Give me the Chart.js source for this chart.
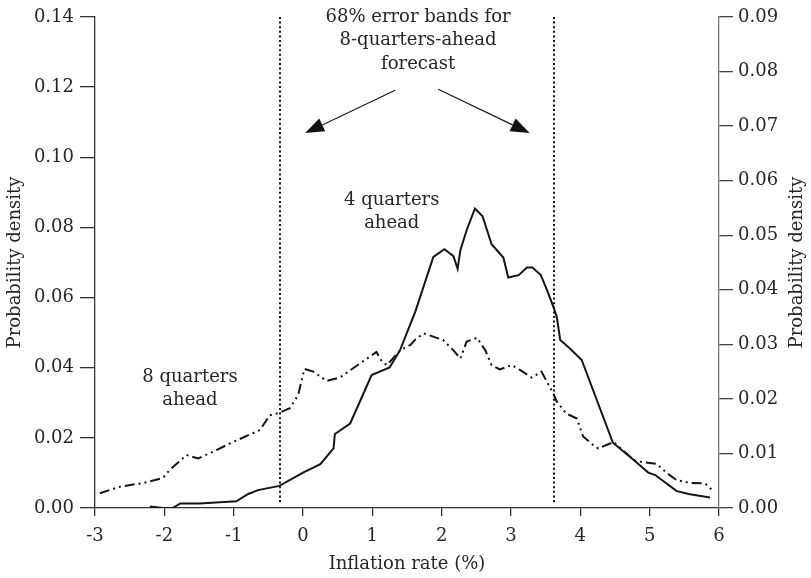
<!DOCTYPE html>
<html>
<head>
<meta charset="utf-8">
<script src="https://cdn.jsdelivr.net/npm/chart.js@4/dist/chart.umd.min.js"></script>
<style>
  html, body { margin: 0; padding: 0; background: #fff; }
  #wrap { width: 811px; height: 578px; position: relative; }
</style>
</head>
<body>
<div id="wrap"><canvas id="c" width="811" height="578"></canvas></div>
<script>
// Inflation rate (%) sample points
const x4q = [-2.21, -2.02, -1.88, -1.77, -1.49, -0.96, -0.79, -0.65, -0.34, 0.00, 0.25, 0.44, 0.46, 0.68, 0.99, 1.25, 1.40, 1.62, 1.88, 2.04, 2.17, 2.23, 2.27, 2.36, 2.48, 2.59, 2.72, 2.89, 2.96, 3.11, 3.23, 3.31, 3.43, 3.52, 3.61, 3.66, 3.71, 3.85, 4.02, 4.47, 4.77, 4.98, 5.08, 5.39, 5.58, 5.87];
// 4-quarters-ahead density (left axis)
const dens4q = [0.0004, 0.0000, 0.0000, 0.0013, 0.0013, 0.0019, 0.0040, 0.0051, 0.0063, 0.0101, 0.0125, 0.0170, 0.0211, 0.0241, 0.0379, 0.0401, 0.0450, 0.0560, 0.0716, 0.0738, 0.0718, 0.0682, 0.0735, 0.0792, 0.0854, 0.0832, 0.0752, 0.0714, 0.0657, 0.0664, 0.0686, 0.0686, 0.0664, 0.0621, 0.0574, 0.0545, 0.0479, 0.0455, 0.0422, 0.0186, 0.0137, 0.0101, 0.0094, 0.0048, 0.0039, 0.0030];

const x8q = [-2.93, -2.64, -2.30, -2.02, -1.92, -1.68, -1.51, -1.25, -1.01, -0.62, -0.48, -0.33, -0.19, -0.07, 0.02, 0.15, 0.34, 0.53, 1.06, 1.14, 1.21, 1.40, 1.55, 1.62, 1.74, 2.02, 2.17, 2.27, 2.36, 2.51, 2.63, 2.72, 2.84, 3.01, 3.13, 3.30, 3.44, 3.52, 3.61, 3.66, 3.80, 3.95, 4.04, 4.19, 4.26, 4.48, 4.77, 4.86, 5.10, 5.25, 5.39, 5.58, 5.80, 5.90];
// 8-quarters-ahead density (right axis)
const dens8q = [0.0027, 0.0039, 0.0046, 0.0055, 0.0070, 0.0097, 0.0091, 0.0106, 0.0121, 0.0143, 0.0170, 0.0175, 0.0183, 0.0207, 0.0255, 0.0250, 0.0233, 0.0239, 0.0286, 0.0268, 0.0262, 0.0289, 0.0299, 0.0309, 0.0320, 0.0308, 0.0289, 0.0274, 0.0305, 0.0312, 0.0289, 0.0262, 0.0254, 0.0262, 0.0253, 0.0239, 0.0250, 0.0231, 0.0210, 0.0195, 0.0173, 0.0164, 0.0131, 0.0115, 0.0109, 0.0121, 0.0088, 0.0085, 0.0081, 0.0064, 0.0051, 0.0046, 0.0045, 0.0033];

// 68% error band limits of the 8-quarters-ahead forecast
const bandLimits = [-0.33, 3.62];

const xTickLabels = ['-3', '-2', '-1', '0', '1', '2', '3', '4', '5', '6'];
const leftTickLabels = ['0.00', '0.02', '0.04', '0.06', '0.08', '0.10', '0.12', '0.14'];
const rightTickLabels = ['0.00', '0.01', '0.02', '0.03', '0.04', '0.05', '0.06', '0.07', '0.08', '0.09'];

const FONT = '"DejaVu Serif", "Liberation Serif", serif';
const INK = '#262626';

const toPoints = (xs, ys) => xs.map((x, i) => ({ x: x, y: ys[i] }));

// Text notes and arrows, placed in data coordinates (x, left-axis y)
const notes = [
  { lines: ['68% error bands for', '8-quarters-ahead', 'forecast'], x: 1.66, y: [0.1399, 0.1333, 0.1265] },
  { lines: ['4 quarters', 'ahead'], x: 1.28, y: [0.0878, 0.0812] },
  { lines: ['8 quarters', 'ahead'], x: -1.63, y: [0.0373, 0.0308] }
];
const arrows = [
  { from: [1.33, 0.1191], to: [0.03, 0.1069] },
  { from: [1.95, 0.1194], to: [3.27, 0.1069] }
];

const decor = {
  id: 'decor',
  afterDatasetsDraw(chart) {
    const ctx = chart.ctx;
    const xs = chart.scales.x, yl = chart.scales.yL;
    ctx.save();
    // dotted band limits
    ctx.strokeStyle = '#111';
    ctx.lineWidth = 2;
    ctx.setLineDash([2, 2.6]);
    bandLimits.forEach(v => {
      const px = Math.round(xs.getPixelForValue(v));
      ctx.beginPath();
      ctx.moveTo(px, chart.chartArea.top);
      ctx.lineTo(px, chart.chartArea.bottom - 4);
      ctx.stroke();
    });
    ctx.setLineDash([]);
    // arrows
    arrows.forEach(a => {
      const x0 = xs.getPixelForValue(a.from[0]), y0 = yl.getPixelForValue(a.from[1]);
      const x1 = xs.getPixelForValue(a.to[0]), y1 = yl.getPixelForValue(a.to[1]);
      const ang = Math.atan2(y1 - y0, x1 - x0);
      const L = 19, W = 7;
      const bx = x1 - L * Math.cos(ang), by = y1 - L * Math.sin(ang);
      ctx.strokeStyle = '#1a1a1a';
      ctx.lineWidth = 1.2;
      ctx.beginPath();
      ctx.moveTo(x0, y0);
      ctx.lineTo(bx, by);
      ctx.stroke();
      ctx.fillStyle = '#111';
      ctx.beginPath();
      ctx.moveTo(x1, y1);
      ctx.lineTo(bx + W * Math.sin(ang), by - W * Math.cos(ang));
      ctx.lineTo(bx - W * Math.sin(ang), by + W * Math.cos(ang));
      ctx.closePath();
      ctx.fill();
    });
    // notes
    ctx.fillStyle = INK;
    ctx.font = '18px ' + FONT;
    ctx.textAlign = 'center';
    ctx.textBaseline = 'middle';
    notes.forEach(n => {
      n.lines.forEach((t, i) => {
        ctx.fillText(t, xs.getPixelForValue(n.x), yl.getPixelForValue(n.y[i]));
      });
    });
    // axis titles
    const midY = (chart.chartArea.top + chart.chartArea.bottom) / 2;
    ctx.save();
    ctx.translate(15, midY);
    ctx.rotate(-Math.PI / 2);
    ctx.fillText('Probability density', 0, 0);
    ctx.restore();
    ctx.save();
    ctx.translate(797, midY);
    ctx.rotate(-Math.PI / 2);
    ctx.fillText('Probability density', 0, 0);
    ctx.restore();
    ctx.fillText('Inflation rate (%)', (chart.chartArea.left + chart.chartArea.right) / 2, 564);
    ctx.restore();
  }
};

new Chart(document.getElementById('c'), {
  type: 'line',
  data: {
    datasets: [
      {
        label: '4 quarters ahead',
        data: toPoints(x4q, dens4q),
        yAxisID: 'yL',
        borderColor: '#151515',
        borderWidth: 2,
        pointRadius: 0,
        tension: 0,
        fill: false
      },
      {
        label: '8 quarters ahead',
        data: toPoints(x8q, dens8q),
        yAxisID: 'yR',
        borderColor: '#151515',
        borderWidth: 2,
        borderDash: [10, 4, 2, 4, 2, 4],
        pointRadius: 0,
        tension: 0,
        fill: false
      }
    ]
  },
  options: {
    responsive: false,
    animation: false,
    events: [],
    layout: { padding: { top: 17, left: 0, right: 0, bottom: 0 } },
    plugins: { legend: { display: false }, tooltip: { enabled: false } },
    scales: {
      x: {
        type: 'linear',
        min: -3, max: 6,
        afterFit: s => { s.height = 70; },
        afterBuildTicks: s => { s.ticks = xTickLabels.map(t => ({ value: Number(t) })); },
        ticks: {
          autoSkip: false, maxRotation: 0, padding: 10,
          color: INK, font: { family: FONT, size: 18 },
          callback: (v, i) => xTickLabels[i]
        },
        grid: { drawOnChartArea: false, drawTicks: true, tickLength: 8, color: '#333', lineWidth: 1.3 },
        border: { display: true, color: '#333', width: 1.3 }
      },
      yL: {
        position: 'left',
        min: 0, max: 0.14,
        afterFit: s => { s.width = 95; },
        afterBuildTicks: s => { s.ticks = leftTickLabels.map(t => ({ value: Number(t) })); },
        ticks: {
          autoSkip: false, padding: 6,
          color: INK, font: { family: FONT, size: 18 },
          callback: (v, i) => leftTickLabels[i]
        },
        grid: { drawOnChartArea: false, drawTicks: true, tickLength: 15, color: '#333', lineWidth: 1.3 },
        border: { display: true, color: '#333', width: 1.3 }
      },
      yR: {
        position: 'right',
        min: 0, max: 0.09,
        afterFit: s => { s.width = 92; },
        afterBuildTicks: s => { s.ticks = rightTickLabels.map(t => ({ value: Number(t) })); },
        ticks: {
          autoSkip: false, padding: 5,
          color: INK, font: { family: FONT, size: 18 },
          callback: (v, i) => rightTickLabels[i]
        },
        grid: { drawOnChartArea: false, drawTicks: true, tickLength: 14, color: '#444', lineWidth: 1.3 },
        border: { display: true, color: '#777', width: 1.3 }
      }
    }
  },
  plugins: [decor]
});
</script>
</body>
</html>
